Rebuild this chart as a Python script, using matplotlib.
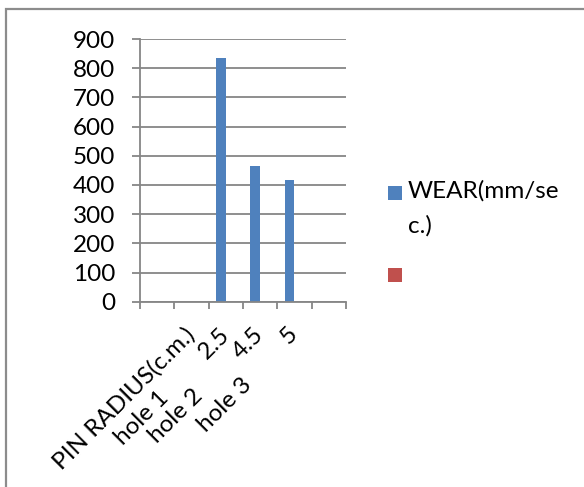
import numpy as np
import matplotlib
matplotlib.use("Agg")
import matplotlib.pyplot as plt
from matplotlib.patches import Rectangle

# data
categories = ["", "PIN RADIUS(c.m.)", "2.5", "4.5", "5", ""]
sub_labels = ["hole 1", "hole 2", "hole 3"]
sub_cats = [1, 2, 3]
wear = [np.nan, np.nan, 834, 464, 417, np.nan]
other = [np.nan] * 6
series_names = ["WEAR(mm/se\nc.)", ""]
colors = ["#4F81BD", "#C0504D"]
yticks = list(range(0, 901, 100))

plt.rcParams['font.family'] = ['Lato', 'DejaVu Sans']
FS = 17.5
GRID = "#868686"

W, H = 584, 487
fig = plt.figure(figsize=(W / 100, H / 100), dpi=100)
px = lambda x, y: (x / W, 1 - y / H)

# chart area border (cut off at right/bottom like the original)
fig.add_artist(Rectangle(px(6, 500), 600 / W, 491 / H, transform=fig.transFigure,
                         fill=False, edgecolor="#8c8c8c", linewidth=1.6))

l, t = px(140, 39)
r, b = px(346, 301.7)
ax = fig.add_axes([l, b, r - l, t - b])

n = len(categories)
x = np.arange(n) + 0.5
w = 1 / 3.5
ax.bar(x - w / 2, wear, w, color=colors[0], linewidth=0)
ax.bar(x + w / 2, other, w, color=colors[1], linewidth=0)

ax.set_xlim(0, n)
ax.set_ylim(0, 900)
ax.set_yticks(yticks)
ax.tick_params(axis='y', length=6, width=1.3, color=GRID, pad=12, labelsize=FS)
ax.yaxis.grid(True, color=GRID, linewidth=1.3)
ax.set_axisbelow(True)

ax.set_xticks(x)
ax.set_xticklabels(categories, rotation=45, ha='right', va='center',
                   rotation_mode='anchor', fontsize=FS)
ax.tick_params(axis='x', which='major', length=0, pad=21)
ax.set_xticks(np.arange(n + 1), minor=True)
ax.tick_params(axis='x', which='minor', length=5, width=1.3, color=GRID)

for s in ['top', 'right']:
    ax.spines[s].set_visible(False)
for s in ['left', 'bottom']:
    ax.spines[s].set_color(GRID)
    ax.spines[s].set_linewidth(1.3)

# second row of category text
sub_off = [(-50, -116), (-50, -114), (-35, -103)]
for lab, c, (dx, dy) in zip(sub_labels, sub_cats, sub_off):
    ax.annotate(lab, xy=(x[c], 0), xytext=(dx, dy), textcoords='offset pixels',
                rotation=45, ha='center', va='center', rotation_mode='anchor',
                fontsize=FS, annotation_clip=False)

# legend
for (yy, ty), name, col in zip([(186, 193), (268, 275)], series_names, colors):
    fig.add_artist(Rectangle(px(388, yy + 14), 14 / W, 14 / H,
                             transform=fig.transFigure, color=col, linewidth=0))
    if name:
        fig.text(*px(408, ty - 13), name, fontsize=FS, va='top', ha='left',
                 linespacing=1.8)

fig.savefig("out.png", dpi=100)
